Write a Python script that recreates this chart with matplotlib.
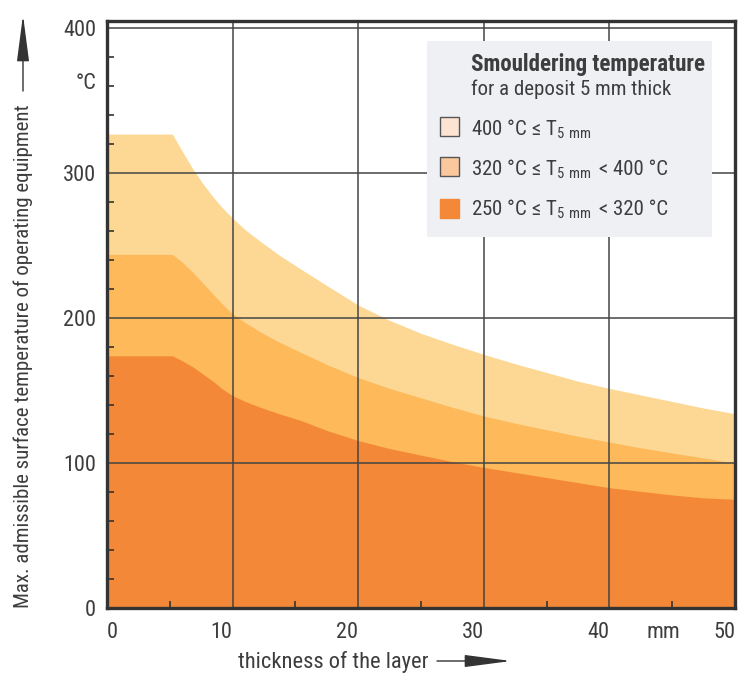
import matplotlib
matplotlib.use('Agg')
import matplotlib.pyplot as plt
from matplotlib import font_manager
from matplotlib.patches import Rectangle
from matplotlib.ticker import FixedLocator
import matplotlib.transforms as mtransforms

# pick a narrow sans font if one is installed
_names = {f.name for f in font_manager.fontManager.ttflist}
narrow = [n for n in ['Liberation Sans Narrow', 'Roboto Condensed', 'Open Sans Condensed']
          if n in _names]
if narrow:
    plt.rcParams['font.family'] = [narrow[0], 'DejaVu Sans']
    fs_tick, fs_lab, fs_leg, fs_title = 16, 15, 15, 16.5
else:
    plt.rcParams['font.family'] = ['DejaVu Sans']
    plt.rcParams['font.stretch'] = 'condensed'
    fs_tick, fs_lab, fs_leg, fs_title = 15, 14, 13, 13.5

# layer thickness in mm
thickness = [0, 5.2, 6, 6.9, 7.7, 8.5, 9.2, 10, 11, 12.2, 13.7, 15.4, 17.5, 20,
             22.5, 25, 27.5, 30, 32.5, 35, 37.5, 40, 42.5, 45, 47.5, 50]
# max. surface temperature, deg C, for each smouldering-temperature class
t_high = [327, 327, 315, 302, 292, 283, 276, 269, 261, 253, 243.5, 234, 222.5, 209,
          198.5, 189.5, 182, 175, 168.5, 162.5, 156.5, 151.5, 147, 142.5, 138, 134]
t_mid = [244, 244, 238.5, 231, 223.5, 216, 209.5, 203, 197, 190.5, 183.5, 176.5, 168, 159,
         151.5, 145, 138.5, 132.5, 127.5, 123, 118.5, 114.5, 110.5, 107, 103.5, 100]
t_low = [174, 174, 170.5, 166, 161, 156, 151, 146.5, 142.5, 138.5, 134, 129.5, 122.5, 115.5,
         110, 105.5, 101, 97, 93.5, 90, 86.5, 83, 80.5, 78, 76, 75]

x_ticks = [0, 10, 20, 30, 40, 50]
y_ticks = [0, 100, 200, 300, 400]

legend_from = [400, 320, 250]
legend_to = ['', '< 400 °C', '< 320 °C']

fill_colors = ['#fdd894', '#fdb95a', '#f38838']
legend_colors = ['#fde3d2', '#fbc89e', '#f38838']
text_col = '#3d3d3d'
dark = '#333333'

fig = plt.figure(figsize=(7.44, 6.75), dpi=100)
ax = fig.add_axes([107 / 744, 67 / 675, 628 / 744, 587 / 675])

ax.fill_between(thickness, 0, t_high, color=fill_colors[0], lw=0, zorder=1)
ax.fill_between(thickness, 0, t_mid, color=fill_colors[1], lw=0, zorder=1.1)
ax.fill_between(thickness, 0, t_low, color=fill_colors[2], lw=0, zorder=1.2)

ax.set_xlim(0, 50)
ax.set_ylim(0, 405)

ax.set_xticks(x_ticks, [str(v) for v in x_ticks])
ax.set_yticks(y_ticks, [str(v) for v in y_ticks])
ax.xaxis.set_minor_locator(FixedLocator([5, 15, 25, 35, 45]))
ax.yaxis.set_minor_locator(FixedLocator([20, 40, 60, 80, 120, 140, 160, 180,
                                         220, 240, 260, 280, 320, 340, 360, 380]))
ax.tick_params(which='major', length=0, labelsize=fs_tick, colors=text_col)
ax.tick_params(axis='x', which='major', pad=10)
ax.tick_params(axis='y', which='major', pad=8)
ax.tick_params(which='minor', direction='in', length=5, width=1.2, color=dark)
for v, lbl in zip(x_ticks, ax.get_xticklabels()):
    lbl.set_horizontalalignment('left' if v == 0 else 'right')

ax.grid(True, which='major', color='#454545', lw=1.1)
ax.set_axisbelow(False)
for s in ax.spines.values():
    s.set_linewidth(2.4)
    s.set_color(dark)
    s.set_zorder(6)

# unit labels
ax.text(-0.0175, 362, '°C', transform=mtransforms.blended_transform_factory(ax.transAxes, ax.transData),
        ha='right', va='center', fontsize=fs_tick, color=text_col)
ax.text(44.3, -0.041, 'mm', transform=mtransforms.blended_transform_factory(ax.transData, ax.transAxes),
        ha='center', va='center', fontsize=fs_tick, color=text_col)

# legend box
ax.add_patch(Rectangle((0.5096, 0.632), 0.4538, 0.334, transform=ax.transAxes,
                       facecolor='#eef0f4', edgecolor='none', zorder=5))
ax.text(0.5796, 0.9153, 'Smouldering temperature', transform=ax.transAxes, fontsize=fs_title,
        fontweight='bold', color=text_col, va='baseline', zorder=7)
ax.text(0.5796, 0.874, 'for a deposit 5 mm thick', transform=ax.transAxes, fontsize=fs_leg,
        color=text_col, va='baseline', zorder=7)
sq_y = [0.8211, 0.7513, 0.6814]
base_y = [0.8058, 0.7377, 0.6695]
for i in range(3):
    ax.add_patch(Rectangle((0.530, sq_y[i] - 0.0162), 0.0303, 0.0324, transform=ax.transAxes,
                           facecolor=legend_colors[i],
                           edgecolor='#555555' if i < 2 else legend_colors[i],
                           lw=1.0, zorder=7))
    ax.text(0.5796, base_y[i], f'{legend_from[i]} °C ≤ T$_{{\\mathregular{{5\\ mm}}}}$',
            transform=ax.transAxes, fontsize=fs_leg, color=text_col, va='baseline', zorder=7)
    if legend_to[i]:
        ax.text(0.7834, base_y[i], legend_to[i], transform=ax.transAxes, fontsize=fs_leg,
                color=text_col, va='baseline', zorder=7)

# axis titles with arrows
fig.text(23 / 744, 67 / 675, 'Max. admissible surface temperature of operating equipment',
         rotation=90, ha='center', va='bottom', fontsize=fs_lab, color=text_col)
ax.annotate('', xy=(23, 660), xytext=(23, 584), xycoords='figure pixels',
            textcoords='figure pixels',
            arrowprops=dict(arrowstyle='-|>,head_length=2.9,head_width=0.38',
                            mutation_scale=10, color=dark, lw=1.0, shrinkA=0, shrinkB=0))
fig.text(238 / 744, 13 / 675, 'thickness of the layer', ha='left', va='center',
         fontsize=fs_lab + 1.2, color=text_col)
ax.annotate('', xy=(511, 14), xytext=(437, 14), xycoords='figure pixels',
            textcoords='figure pixels',
            arrowprops=dict(arrowstyle='-|>,head_length=2.9,head_width=0.38',
                            mutation_scale=10, color=dark, lw=1.0, shrinkA=0, shrinkB=0))

fig.savefig('out.png', dpi=100)
